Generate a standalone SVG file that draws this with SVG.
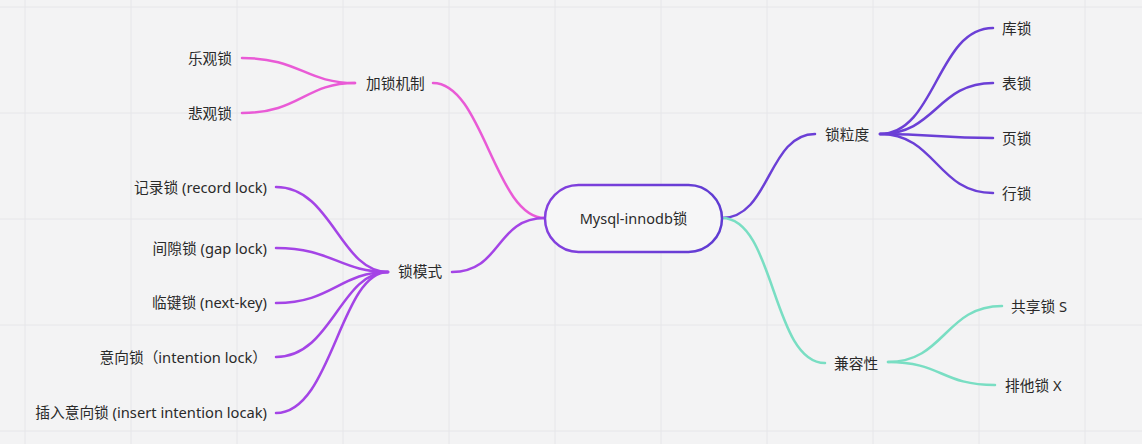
<svg xmlns="http://www.w3.org/2000/svg" width="1142" height="444" viewBox="0 0 1142 444">
<defs>
<style>
.grid line{stroke:#e6e6e9;stroke-width:1}
.t{font-family:"Noto Sans","Noto Sans CJK SC",sans-serif;font-size:14.7px;fill:#2a2a2a;dominant-baseline:central}
.c{fill:none;stroke-width:2.5;stroke-linecap:round}
.pink{stroke:#e95ad6}
.violet{stroke:#a444e6}
.blue{stroke:#6b3fd6}
.teal{stroke:#79dec3}
</style>
<linearGradient id="ng" x1="0" y1="0" x2="1" y2="0">
<stop offset="0" stop-color="#8440de"/>
<stop offset="1" stop-color="#5f3cd2"/>
</linearGradient>
</defs>
<rect width="1142" height="444" fill="#f3f3f4"/>
<g class="grid">
<line x1="25" y1="0" x2="25" y2="444"/><line x1="131" y1="0" x2="131" y2="444"/><line x1="237" y1="0" x2="237" y2="444"/><line x1="343" y1="0" x2="343" y2="444"/><line x1="449" y1="0" x2="449" y2="444"/><line x1="555" y1="0" x2="555" y2="444"/><line x1="661" y1="0" x2="661" y2="444"/><line x1="767" y1="0" x2="767" y2="444"/><line x1="873" y1="0" x2="873" y2="444"/><line x1="979" y1="0" x2="979" y2="444"/><line x1="1085" y1="0" x2="1085" y2="444"/>
<line x1="0" y1="7" x2="1142" y2="7"/><line x1="0" y1="113" x2="1142" y2="113"/><line x1="0" y1="219" x2="1142" y2="219"/><line x1="0" y1="325" x2="1142" y2="325"/><line x1="0" y1="431" x2="1142" y2="431"/>
</g>
<g id="connectors">
<path class="c pink" d="M545 218 C495 218 483 83 433 83"/>
<path class="c pink" d="M242 58 C300 58 305 83 355 83"/>
<path class="c pink" d="M242 113 C300 113 305 83 355 83"/>
<path class="c violet" d="M545 218 C495 218 502 272 452 272"/>
<path class="c violet" d="M276 187 C332 187 340 272 388 272"/>
<path class="c violet" d="M276 248 C332 248 340 272 388 272"/>
<path class="c violet" d="M276 303 C332 303 340 272 388 272"/>
<path class="c violet" d="M276 357 C332 357 340 272 388 272"/>
<path class="c violet" d="M276 413 C332 413 340 272 388 272"/>
<path class="c blue" d="M722 218 C770 218 768 134 815 134"/>
<path class="c blue" d="M880 134 C936 134 937 28 993 28"/>
<path class="c blue" d="M880 134 C936 134 937 83 993 83"/>
<path class="c blue" d="M880 134 C936 134 937 138 993 138"/>
<path class="c blue" d="M880 134 C936 134 937 193 993 193"/>
<path class="c teal" d="M722 218 C775 218 772 363 825 363"/>
<path class="c teal" d="M888 362 C945 362 945 306 1002 306"/>
<path class="c teal" d="M888 362 C942 362 941 385 995 385"/>
</g>
<g id="root">
<rect x="545" y="185" width="177" height="67" rx="33.5" fill="#f6f6f7" stroke="url(#ng)" stroke-width="2.5"/>
<text class="t" x="633.5" y="218" text-anchor="middle" style="font-size:14.5px">Mysql-innodb锁</text>
</g>
<g id="n-jiasuo"><text class="t" x="366" y="83">加锁机制</text></g>
<g id="n-leguan"><text class="t" x="232" y="58" text-anchor="end">乐观锁</text></g>
<g id="n-beiguan"><text class="t" x="232" y="113" text-anchor="end">悲观锁</text></g>
<g id="n-moshi"><text class="t" x="398" y="271">锁模式</text></g>
<g id="n-record"><text class="t" x="267" y="187" text-anchor="end">记录锁 (record lock)</text></g>
<g id="n-gap"><text class="t" x="267" y="248" text-anchor="end">间隙锁 (gap lock)</text></g>
<g id="n-nextkey"><text class="t" x="267" y="302" text-anchor="end">临键锁 (next-key)</text></g>
<g id="n-intention"><text class="t" x="267" y="357" text-anchor="end">意向锁（intention lock）</text></g>
<g id="n-insert"><text class="t" x="267" y="412" text-anchor="end">插入意向锁 (insert intention locak)</text></g>
<g id="n-lidu"><text class="t" x="825" y="134">锁粒度</text></g>
<g id="n-ku"><text class="t" x="1002" y="28">库锁</text></g>
<g id="n-biao"><text class="t" x="1002" y="83">表锁</text></g>
<g id="n-ye"><text class="t" x="1002" y="138">页锁</text></g>
<g id="n-hang"><text class="t" x="1002" y="193">行锁</text></g>
<g id="n-jianrong"><text class="t" x="834" y="363">兼容性</text></g>
<g id="n-s"><text class="t" x="1011" y="306">共享锁 S</text></g>
<g id="n-x"><text class="t" x="1005" y="385">排他锁 X</text></g>
</svg>
